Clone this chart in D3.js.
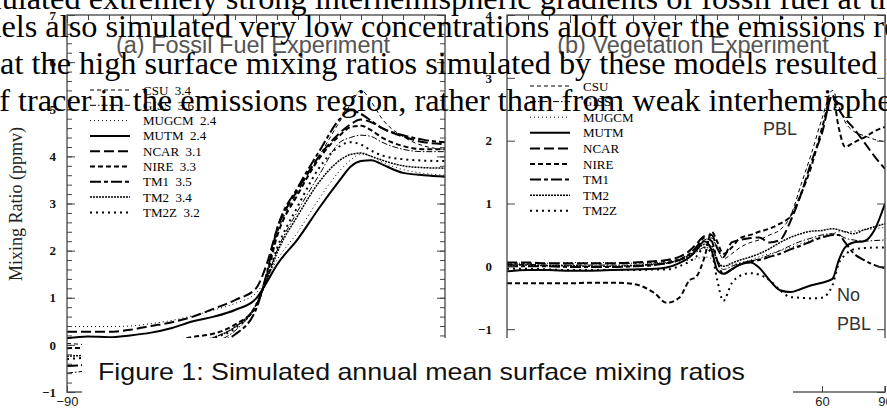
<!DOCTYPE html>
<html>
<head>
<meta charset="utf-8">
<script src="https://cdn.jsdelivr.net/npm/d3@7"></script>
<style>
  body { margin:0; background:#fff; }
  text { white-space: pre; }
</style>
</head>
<body>
<div id="canvas"></div>
<script>
// --- size
var W = 887, H = 408;

// --- data: model names and fossil-fuel interhemispheric differences
var models = ["CSU","GISS","MUGCM","MUTM","NCAR","NIRE","TM1","TM2","TM2Z"];
var gradients = ["3.4","3.6","2.4","2.4","3.1","3.3","3.5","3.4","3.2"];

// --- (a) fossil fuel, ppmv, at these latitudes
var latA = [-90,-80,-70,-60,-50,-40,-30,-20,-10,0,5,10,20,30,40,45,50,55,60,70,80,90];
var ffCSU   = [0.03,0.0,-0.05,-0.08,-0.08,-0.05,0.03,0.16,0.38,0.8,1.5,2.35,3.25,4.0,4.75,5.1,5.4,5.15,4.8,4.42,4.22,4.15];
var ffGISS  = [-0.6,-0.55,-0.5,-0.45,-0.38,-0.25,-0.1,0.05,0.3,0.85,1.4,2.0,2.85,3.6,4.3,4.4,4.45,4.42,4.3,4.15,4.1,4.1];
var ffMUGCM = [0.39,0.39,0.39,0.4,0.45,0.52,0.62,0.74,0.88,1.1,1.4,1.8,2.4,3.1,3.7,3.92,4.05,4.0,3.88,3.72,3.64,3.6];
var ffMUTM  = [0.14,0.18,0.16,0.2,0.26,0.36,0.5,0.6,0.74,0.98,1.32,1.7,2.25,2.9,3.5,3.78,3.9,3.92,3.83,3.65,3.6,3.57];
var ffNCAR  = [0.28,0.28,0.28,0.32,0.4,0.48,0.6,0.77,0.95,1.2,1.7,2.45,3.3,4.0,4.5,4.68,4.78,4.72,4.6,4.42,4.3,4.26];
var ffNIRE  = [-0.07,-0.06,-0.05,-0.03,0.0,0.08,0.17,0.24,0.43,0.82,1.45,2.3,3.2,3.95,4.45,4.62,4.65,4.55,4.4,4.22,4.15,4.15];
var ffTM1   = [-0.45,-0.42,-0.38,-0.33,-0.27,-0.18,-0.08,0.04,0.22,0.75,1.5,2.45,3.35,4.1,4.8,4.98,4.9,4.75,4.6,4.45,4.35,4.3];
var ffTM2   = [-0.24,-0.22,-0.2,-0.18,-0.12,-0.05,0.05,0.16,0.38,0.85,1.35,1.95,2.75,3.45,3.92,4.04,4.07,4.0,3.92,3.8,3.76,3.75];
var ffTM2Z  = [-0.3,-0.27,-0.24,-0.2,-0.14,-0.06,0.04,0.15,0.35,0.85,1.4,2.05,2.95,3.75,4.22,4.3,4.25,4.12,4.02,3.94,3.91,3.9];

// --- (b) vegetation, ppmv
var latB = [-90,-80,-70,-60,-50,-40,-30,-20,-14,-8,-3,0,4,7.5,10,13,17,21,26,30,35,40,45,50,55,60,65,68,71,75,80,85,90];
var vgCSU   = [0.05,0.05,0.04,0.04,0.04,0.04,0.05,0.06,0.08,0.12,0.2,0.28,0.42,0.45,0.3,0.12,0.2,0.3,0.38,0.42,0.5,0.58,0.8,1.3,1.8,2.35,2.8,2.55,2.3,2.15,2.08,2.02,1.98];
var vgGISS  = [0.03,0.03,0.02,0.02,0.02,0.02,0.02,0.04,0.06,0.1,0.15,0.22,0.3,0.28,0.1,-0.05,0.0,0.05,0.08,0.12,0.18,0.25,0.33,0.4,0.45,0.5,0.52,0.5,0.45,0.42,0.4,0.41,0.42];
var vgMUGCM = [0.05,0.05,0.05,0.06,0.06,0.06,0.05,0.05,0.06,0.08,0.1,0.12,0.15,0.12,0.05,0.0,0.02,0.06,0.1,0.15,0.2,0.25,0.3,0.36,0.42,0.48,0.52,0.55,0.55,0.56,0.58,0.6,0.62];
var vgMUTM  = [-0.08,-0.06,-0.06,-0.07,-0.07,-0.06,-0.05,-0.04,-0.02,0.05,0.15,0.25,0.4,0.25,-0.05,-0.12,-0.05,0.03,0.06,-0.02,-0.22,-0.38,-0.41,-0.36,-0.3,-0.26,-0.2,0.1,0.3,0.38,0.4,0.58,1.0];
var vgNCAR  = [0.06,0.06,0.05,0.05,0.05,0.05,0.06,0.08,0.1,0.15,0.25,0.35,0.48,0.5,0.3,0.15,0.38,0.42,0.45,0.46,0.38,0.42,0.72,1.15,1.67,2.12,2.72,2.5,2.35,2.2,1.98,1.75,1.55];
var vgNIRE  = [-0.27,-0.27,-0.27,-0.27,-0.26,-0.26,-0.28,-0.42,-0.58,-0.5,-0.22,-0.17,0.14,0.55,0.4,0.2,0.3,0.45,0.5,0.55,0.6,0.68,0.8,1.15,1.6,2.2,2.72,2.2,1.9,1.97,2.05,2.15,2.22];
var vgTM1   = [0.0,0.0,0.0,-0.01,-0.01,-0.01,0.0,0.02,0.05,0.1,0.2,0.3,0.45,0.4,0.1,-0.12,-0.05,0.03,0.08,0.1,0.15,0.2,0.27,0.33,0.4,0.46,0.5,0.5,0.38,0.21,0.1,0.02,-0.03];
var vgTM2   = [0.02,0.02,0.01,0.01,0.0,0.0,0.01,0.03,0.05,0.1,0.18,0.25,0.35,0.32,0.1,0.0,0.05,0.1,0.15,0.2,0.28,0.38,0.46,0.52,0.56,0.57,0.6,0.58,0.55,0.52,0.58,0.63,0.68];
var vgTM2Z  = [-0.04,-0.04,-0.05,-0.06,-0.06,-0.06,-0.06,-0.05,-0.05,0.0,0.08,0.15,0.3,0.2,-0.2,-0.55,-0.27,-0.15,-0.11,-0.13,-0.22,-0.38,-0.49,-0.5,-0.51,-0.5,-0.3,0.05,0.18,0.27,0.29,0.3,0.3];

var fossil = [ffCSU,ffGISS,ffMUGCM,ffMUTM,ffNCAR,ffNIRE,ffTM1,ffTM2,ffTM2Z];
var veg    = [vgCSU,vgGISS,vgMUGCM,vgMUTM,vgNCAR,vgNIRE,vgTM1,vgTM2,vgTM2Z];

// --- line look per model (same order as models)
var styles = [
  {w:1,   dash:"4,3"},
  {w:1,   dash:"6,2,1.5,2"},
  {w:1,   dash:"1,3"},
  {w:2,   dash:null},
  {w:2,   dash:"10,4"},
  {w:2,   dash:"5,3"},
  {w:2,   dash:"11,3,4,3"},
  {w:1.5, dash:"2,1"},
  {w:2,   dash:"2,4"}
];

var svg = d3.select('#canvas').append('svg')
  .attr('width', W).attr('height', H)
  .style('display','block');

function panel(o) {
  var x = d3.scaleLinear().domain([-90,90]).range([o.x0, o.x1]);
  var y = d3.scaleLinear().domain(o.yDom).range([o.y1, o.y0]);
  var g = svg.append('g');

  g.append('clipPath').attr('id', 'clip' + o.id)
    .append('rect').attr('x', o.x0).attr('y', o.y0)
    .attr('width', o.x1 - o.x0).attr('height', o.y1 - o.y0);

  var line = d3.line()
    .x(function(d){ return x(d[0]); })
    .y(function(d){ return y(d[1]); })
    .curve(d3.curveMonotoneX);

  var lines = g.append('g').attr('clip-path', 'url(#clip' + o.id + ')');
  o.data.forEach(function(vals, i){
    var pts = o.lats.map(function(l, j){ return [l, vals[j]]; });
    lines.append('path')
      .attr('d', line(pts))
      .attr('fill', 'none')
      .attr('stroke', '#000')
      .attr('stroke-width', styles[i].w)
      .attr('stroke-dasharray', styles[i].dash);
  });

  var majors = d3.range(o.yDom[0], o.yDom[1] + 0.01, 1);
  var clean = function(s){ s.select('.domain').remove(); s.selectAll('line').attr('stroke','#444'); };

  // y axis, ticks inside
  g.append('g').attr('transform','translate(' + o.x0 + ',0)')
    .call(d3.axisLeft(y).tickValues(majors).tickSize(-8).tickPadding(o.pad).tickFormat(d3.format('d')))
    .call(clean)
    .selectAll('text').attr('font-family','"Liberation Serif", serif')
      .attr('font-size', 13).attr('font-weight','bold').attr('fill','#111');
  g.append('g').attr('transform','translate(' + o.x1 + ',0)')
    .call(d3.axisRight(y).tickValues(majors).tickSize(-8).tickFormat(''))
    .call(clean);
  if (o.minor) {
    var mins = d3.range(o.yDom[0], o.yDom[1] + 0.01, o.minor);
    g.append('g').attr('transform','translate(' + o.x0 + ',0)')
      .call(d3.axisLeft(y).tickValues(mins).tickSize(-5).tickFormat('')).call(clean);
    g.append('g').attr('transform','translate(' + o.x1 + ',0)')
      .call(d3.axisRight(y).tickValues(mins).tickSize(-5).tickFormat('')).call(clean);
  }

  // top border ticks every 10 degrees
  g.append('g').attr('transform','translate(0,' + o.y0 + ')')
    .call(d3.axisTop(x).tickValues(d3.range(-90,91,10)).tickSize(-5).tickFormat('')).call(clean);
  g.append('g').attr('transform','translate(0,' + o.y0 + ')')
    .call(d3.axisTop(x).tickValues(d3.range(-90,91,30)).tickSize(-8).tickFormat('')).call(clean);

  // bottom axis with labels
  g.append('g').attr('transform','translate(0,' + o.y1 + ')')
    .call(d3.axisBottom(x).tickValues(d3.range(-90,91,30)).tickSize(-6).tickPadding(5).tickFormat(d3.format('d')))
    .call(clean)
    .selectAll('text').attr('font-family','"Liberation Sans", Arial, sans-serif')
      .attr('font-size', 13).attr('fill','#222');

  // frame
  g.append('rect').attr('x', o.x0).attr('y', o.y0)
    .attr('width', o.x1 - o.x0).attr('height', o.y1 - o.y0)
    .attr('fill','none').attr('stroke','#444').attr('stroke-width', 1.3);

  // title
  g.append('text').attr('x', (o.x0 + o.x1) / 2 - 3).attr('y', 53)
    .attr('text-anchor','middle')
    .attr('font-family','"Liberation Sans", Arial, sans-serif')
    .attr('font-size', 23.5).attr('fill','#555')
    .text(o.title);

  // legend
  var leg = g.append('g');
  models.forEach(function(m, i){
    var ly = o.legY + i * o.legStep;
    leg.append('line')
      .attr('x1', o.x0 + 23).attr('x2', o.x0 + 63)
      .attr('y1', ly).attr('y2', ly)
      .attr('stroke','#000')
      .attr('stroke-width', styles[i].w)
      .attr('stroke-dasharray', styles[i].dash);
    leg.append('text')
      .attr('x', o.x0 + 76).attr('y', ly)
      .attr('dy','0.35em')
      .attr('font-family','"Liberation Serif", serif')
      .attr('font-size', 13).attr('fill','#000')
      .text(o.withGrad ? m + '  ' + gradients[i] : m);
  });

  return {x:x, y:y};
}

panel({id:'a', x0:67, x1:445, y0:15, y1:392, yDom:[-1,7], pad:11, minor:0.2,
       lats:latA, data:fossil, title:'(a) Fossil Fuel Experiment',
       legY:90, legStep:15.3, withGrad:true});
panel({id:'b', x0:507, x1:885, y0:15, y1:392, yDom:[-2,4], pad:15, minor:0,
       lats:latB, data:veg, title:'(b) Vegetation Experiment',
       legY:86, legStep:15.6, withGrad:false});

// --- annotations
var sans = '"Liberation Sans", Arial, sans-serif';
svg.append('text').attr('x',763).attr('y',135).attr('font-family',sans)
  .attr('font-size',18).attr('fill','#333').text('PBL');
svg.append('text').attr('x',837).attr('y',301).attr('font-family',sans)
  .attr('font-size',18).attr('fill','#333').text('No');
svg.append('text').attr('x',837).attr('y',330).attr('font-family',sans)
  .attr('font-size',18).attr('fill','#333').text('PBL');

// y axis title
svg.append('text')
  .attr('transform','translate(22,204) rotate(-90)')
  .attr('text-anchor','middle')
  .attr('font-family','"Liberation Serif", serif')
  .attr('font-size', 18).attr('fill','#222')
  .text('Mixing Ratio (ppmv)');

// --- caption box pasted over the lower part
svg.append('rect').attr('x',82).attr('y',338).attr('width',711).attr('height',70).attr('fill','#fff');
svg.append('rect').attr('x',793).attr('y',338).attr('width',94).attr('height',48).attr('fill','#fff');
svg.append('text').attr('x',98).attr('y',380)
  .attr('font-family',sans).attr('font-size',24)
  .attr('textLength',647).attr('lengthAdjust','spacingAndGlyphs')
  .attr('fill','#111')
  .text('Figure 1: Simulated annual mean surface mixing ratios');

// --- body text of the page showing through on top
var bodyLines = [
  "simulated extremely strong interhemispheric gradients of fossil fuel at the",
  "models also simulated very low concentrations aloft over the emissions region",
  "that the high surface mixing ratios simulated by these models resulted from",
  "of tracer in the emissions region, rather than from weak interhemispheric"
];
var bodyX = [-45, -56, -25, -17];
var bodyY = [9, 37, 74, 111];
svg.append('g').selectAll('text')
  .data(bodyLines)
  .enter().append('text')
  .attr('x', function(d,i){ return bodyX[i]; })
  .attr('y', function(d,i){ return bodyY[i]; })
  .attr('font-family','"Liberation Serif", "Times New Roman", serif')
  .attr('font-size', 32.3)
  .attr('fill','#000')
  .text(function(d){ return d; });
</script>
</body>
</html>
